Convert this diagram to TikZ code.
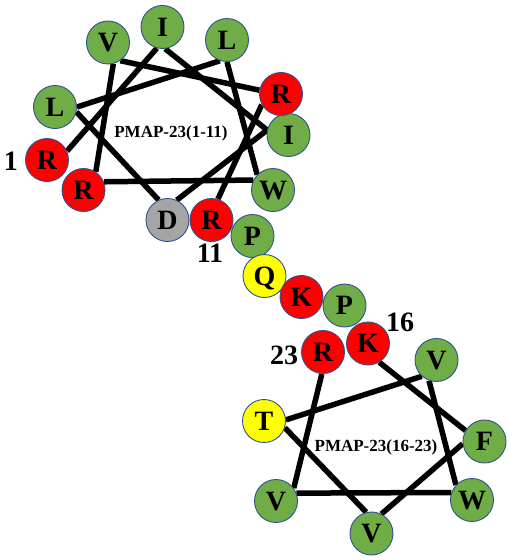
\documentclass[tikz,border=0pt]{standalone}
\usepackage{fontspec}
\setmainfont{Liberation Serif}
\usetikzlibrary{backgrounds}
\definecolor{PmapGreen}{RGB}{112,173,71}
\definecolor{PmapRed}{RGB}{255,0,0}
\definecolor{PmapYellow}{RGB}{255,255,0}
\definecolor{PmapGray}{RGB}{165,165,165}
\definecolor{PmapEdge}{RGB}{47,82,143}
\tikzset{
  pmap/res/.style={
    circle,
    draw=PmapEdge,
    line width=0.9pt,
    minimum size=43pt,
    inner sep=0pt,
    text=black,
    text depth=0pt,
    font=\fontsize{28}{28}\selectfont\bfseries
  },
  pmap/hydro/.style={pmap/res, fill=PmapGreen},
  pmap/basic/.style={pmap/res, fill=PmapRed},
  pmap/polar/.style={pmap/res, fill=PmapYellow},
  pmap/acid/.style={pmap/res, fill=PmapGray},
  pmap/bond/.style={line width=5.5pt, draw=black},
  pmap/num/.style={font=\fontsize{28}{28}\selectfont\bfseries, text=black, inner sep=0pt},
  pmap/title/.style={font=\fontsize{17}{17}\selectfont\bfseries, text=black, inner sep=0pt}
}

\begin{document}
\begin{tikzpicture}[x=1pt,y=-1pt]
  \useasboundingbox (0,0) rectangle (510,560);
  % wheel 1-11
  \node[pmap/basic] (r1)  at (47,160)    {R};
  \node[pmap/hydro] (i2)  at (162.5,27)  {I};
  \node[pmap/hydro] (i3)  at (288.5,135) {I};
  \node[pmap/acid]  (d4)  at (167.5,220) {D};
  \node[pmap/hydro] (l5)  at (55,107)    {L};
  \node[pmap/hydro] (l6)  at (227,40)    {L};
  \node[pmap/hydro] (w7)  at (273,190)   {W};
  \node[pmap/basic] (r8)  at (83.5,190)  {R};
  \node[pmap/hydro] (v9)  at (108,42.5)  {V};
  \node[pmap/basic] (r10) at (281,94)    {R};
  \node[pmap/basic] (r11) at (211.5,220) {R};
  \node[pmap/title] (tt1) at (171,133) {PMAP-23(1-11)};
  \node[pmap/num] at (11,161) {1};
  \node[pmap/num] at (210,253) {11};
  % linker
  \node[pmap/hydro] (p12) at (252.5,236) {P};
  \node[pmap/polar] (q13) at (264.5,276) {Q};
  \node[pmap/basic] (k14) at (301.5,297) {K};
  \node[pmap/hydro] (p15) at (344.5,305.5) {P};
  % wheel 16-23
  \node[pmap/basic] (k16) at (368,343.5) {K};
  \node[pmap/hydro] (f17) at (484.5,441.5) {F};
  \node[pmap/hydro] (v18) at (371.5,533.5) {V};
  \node[pmap/polar] (t19) at (264,421)   {T};
  \node[pmap/hydro] (v20) at (436.5,360) {V};
  \node[pmap/hydro] (w21) at (472,500)   {W};
  \node[pmap/hydro] (v22) at (276,501)   {V};
  \node[pmap/basic] (r23) at (323,352)   {R};
  \node[pmap/title] (tt2) at (376,447) {PMAP-23(16-23)};
  \node[pmap/num] at (400,322) {16};
  \node[pmap/num] at (284,355) {23};

  \begin{scope}[on background layer]
    \draw[pmap/bond] (r1.24) -- (i2.255);
    \draw[pmap/bond] (i2.277) -- (i3.167);
    \draw[pmap/bond] (i3.167) -- (d4.65);
    \draw[pmap/bond] (d4.114) -- (l5.347);
    \draw[pmap/bond] (l5.0) -- (l6.251);
    \draw[pmap/bond] (l6.270) -- (w7.136);
    \draw[pmap/bond] (w7.153) -- (r8.22);
    \draw[pmap/bond] (r8.56) -- (v9.284);
    \draw[pmap/bond] (v9.304) -- (r10.170);
    \draw[pmap/bond] (r10.209) -- (r11.73);
    \draw[pmap/bond] (k16.301) -- (f17.150);
    \draw[pmap/bond] (f17.186) -- (v18.63);
    \draw[pmap/bond] (v18.104) -- (t19.342);
    \draw[pmap/bond] (t19.3) -- (v20.228);
    \draw[pmap/bond] (v20.250) -- (w21.137);
    \draw[pmap/bond] (w21.160) -- (v22.21);
    \draw[pmap/bond] (v22.36) -- (r23.267);
  \end{scope}
\end{tikzpicture}
\end{document}
